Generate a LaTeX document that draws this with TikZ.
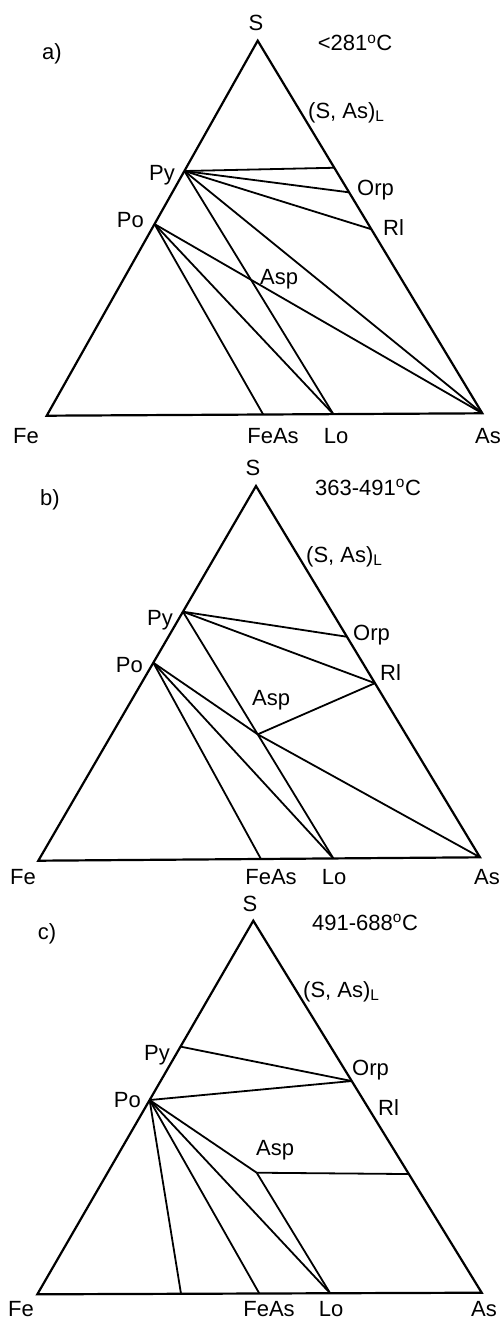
\documentclass[tikz,border=0pt]{standalone}
\usepackage{fontspec}
\setmainfont{Liberation Sans}
\usetikzlibrary{calc}
\begin{document}
\begin{tikzpicture}[x=1pt,y=-1pt,
  side/.style={line width=2.2pt,line join=miter},
  tie/.style={line width=1.8pt},
  lab/.style={inner sep=0pt,font=\fontsize{22}{26}\selectfont,anchor=base},
  labw/.style={lab,anchor=base west},
  labe/.style={lab,anchor=base east}]
\useasboundingbox (0,0) rectangle (503,1319);
% ================= a) =================
\coordinate (Sa) at (257.7,40.7);
\coordinate (Fea) at (46.7,415.7);
\coordinate (Asa) at (482.3,413.3);
\coordinate (Pya) at ($(Sa)!0.3475!(Fea)$);
\coordinate (Poa) at ($(Sa)!0.489!(Fea)$);
\coordinate (La) at ($(Sa)!0.341!(Asa)$);
\coordinate (Orpa) at ($(Sa)!0.407!(Asa)$);
\coordinate (Rla) at ($(Sa)!0.506!(Asa)$);
\coordinate (FeAsa) at ($(Fea)!0.497!(Asa)$);
\coordinate (Loa) at ($(Fea)!0.658!(Asa)$);
\draw[side] (Sa) -- (Fea) -- (Asa) -- cycle;
\draw[tie] (Pya) -- (La);
\draw[tie] (Pya) -- (Orpa);
\draw[tie] (Pya) -- (Rla);
\draw[tie] (Pya) -- (Asa);
\draw[tie] (Pya) -- (Loa);
\draw[tie] (Poa) -- (Asa);
\draw[tie] (Poa) -- (Loa);
\draw[tie] (Poa) -- (FeAsa);
\node[lab] (tSa) at (256,31) {S};
\node[lab] (tTa) at (355,51) {<281\textsuperscript{o}C};
\node[lab] (tla) at (52,60) {a)};
\node[labw] (tLa) at (308,118) {(S, As)\textsubscript{L}};
\node[labe] (tPya) at (175,180) {Py};
\node[labe] (tPoa) at (144,227) {Po};
\node[labw] (tOrpa) at (357,195) {Orp};
\node[labw] (tRla) at (383,235) {Rl};
\node[labw] (tAspa) at (260,284) {Asp};
\node[lab] (tFea) at (26,443) {Fe};
\node[lab] (tFeAsa) at (273,443) {FeAs};
\node[lab] (tLoa) at (336,443) {Lo};
\node[lab] (tAsa) at (488,443) {As};
% ================= b) =================
\coordinate (Sb) at (256,486);
\coordinate (Feb) at (38.3,860.7);
\coordinate (Asb) at (480,857.3);
\coordinate (Pyb) at ($(Sb)!0.3355!(Feb)$);
\coordinate (Pob) at ($(Sb)!0.4716!(Feb)$);
\coordinate (Orpb) at ($(Sb)!0.406!(Asb)$);
\coordinate (Rlb) at ($(Sb)!0.531!(Asb)$);
\coordinate (FeAsb) at ($(Feb)!0.504!(Asb)$);
\coordinate (Lob) at ($(Feb)!0.668!(Asb)$);
\coordinate (Aspb) at ($(Pyb)!0.497!(Lob)$);
\draw[side] (Sb) -- (Feb) -- (Asb) -- cycle;
\draw[tie] (Pyb) -- (Orpb);
\draw[tie] (Pyb) -- (Rlb);
\draw[tie] (Pyb) -- (Aspb);
\draw[tie] (Aspb) -- (Lob);
\draw[tie] (Aspb) -- (Rlb);
\draw[tie] (Aspb) -- (Asb);
\draw[tie] (Pob) -- (Aspb);
\draw[tie] (Pob) -- (Lob);
\draw[tie] (Pob) -- (FeAsb);
\node[lab] (tSb) at (253,475) {S};
\node[labw] (tTb) at (315,495) {363-491\textsuperscript{o}C};
\node[lab] (tlb) at (50,505) {b)};
\node[labw] (tLb) at (306,562) {(S, As)\textsubscript{L}};
\node[labe] (tPyb) at (173,625) {Py};
\node[labe] (tPob) at (143,672) {Po};
\node[labw] (tOrpb) at (353,640) {Orp};
\node[labw] (tRlb) at (380,680) {Rl};
\node[labw] (tAspb) at (252,705) {Asp};
\node[lab] (tFeb) at (23,884) {Fe};
\node[lab] (tFeAsb) at (271,884) {FeAs};
\node[lab] (tLob) at (334,884) {Lo};
\node[lab] (tAsb) at (487,884) {As};
% ================= c) =================
\coordinate (Sc) at (253.3,920.7);
\coordinate (Fec) at (37.3,1294.3);
\coordinate (Asc) at (481.7,1292.7);
\coordinate (Pyc) at ($(Sc)!0.337!(Fec)$);
\coordinate (Poc) at ($(Sc)!0.48!(Fec)$);
\coordinate (Orpc) at ($(Sc)!0.431!(Asc)$);
\coordinate (Rc) at ($(Sc)!0.681!(Asc)$);
\coordinate (Xc) at ($(Fec)!0.3234!(Asc)$);
\coordinate (FeAsc) at ($(Fec)!0.4996!(Asc)$);
\coordinate (Loc) at ($(Fec)!0.659!(Asc)$);
\coordinate (Aspc) at (256.7,1172.7);
\draw[side] (Sc) -- (Fec) -- (Asc) -- cycle;
\draw[tie] (Pyc) -- (Orpc);
\draw[tie] (Poc) -- (Orpc);
\draw[tie] (Poc) -- (Aspc);
\draw[tie] (Aspc) -- (Rc);
\draw[tie] (Aspc) -- (Loc);
\draw[tie] (Poc) -- (Loc);
\draw[tie] (Poc) -- (FeAsc);
\draw[tie] (Poc) -- (Xc);
\node[lab] (tSc) at (250,911) {S};
\node[labw] (tTc) at (312,930) {491-688\textsuperscript{o}C};
\node[lab] (tlc) at (47,939) {c)};
\node[labw] (tLc) at (303,997) {(S, As)\textsubscript{L}};
\node[labe] (tPyc) at (170,1060) {Py};
\node[labe] (tPoc) at (141,1107) {Po};
\node[labw] (tOrpc) at (352,1075) {Orp};
\node[labw] (tRlc) at (378,1115) {Rl};
\node[labw] (tAspc) at (256,1155) {Asp};
\node[lab] (tFec) at (21,1316) {Fe};
\node[lab] (tFeAsc) at (269,1316) {FeAs};
\node[lab] (tLoc) at (331,1316) {Lo};
\node[lab] (tAsc) at (484,1316) {As};
\end{tikzpicture}
\end{document}
